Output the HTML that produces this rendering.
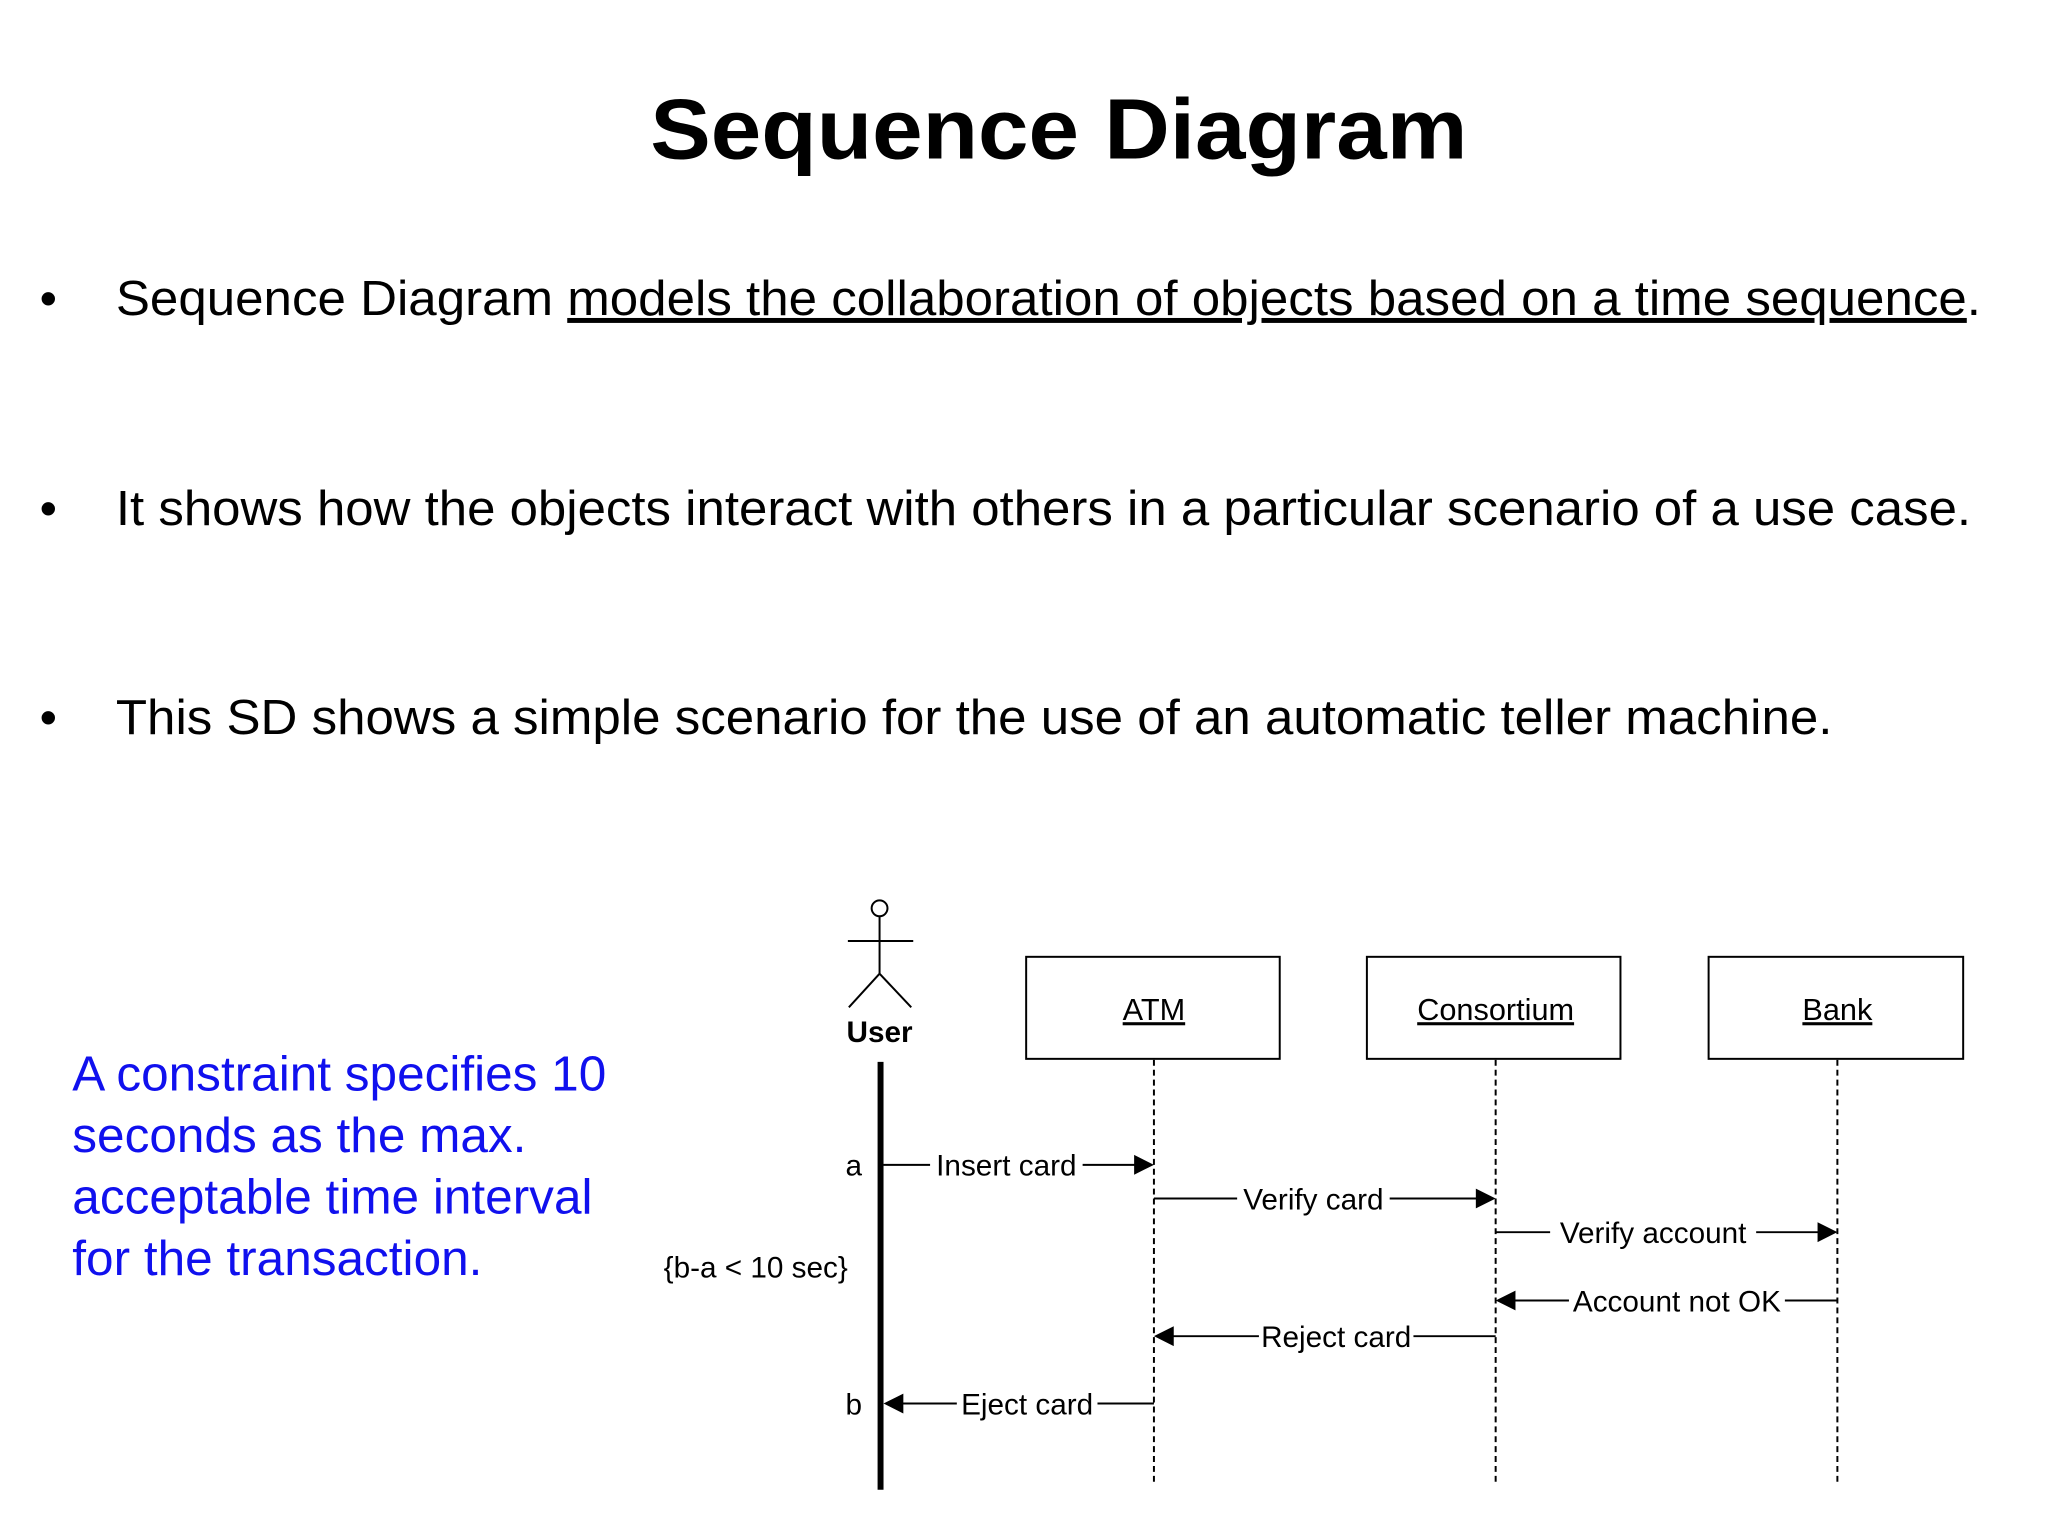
<!DOCTYPE html>
<html><head><meta charset="utf-8"><style>
html,body{margin:0;padding:0;background:#fff;}
svg{display:block;}
</style></head><body>
<svg width="2048" height="1536" viewBox="0 0 2048 1536" xmlns="http://www.w3.org/2000/svg" font-family="Liberation Sans, Arial, sans-serif">
<rect width="2048" height="1536" fill="#fff"/>
<g transform="scale(0.9905)">
<text x="1069" y="160" font-size="86" font-weight="bold" text-anchor="middle" textLength="825" lengthAdjust="spacingAndGlyphs">Sequence Diagram</text>
<g font-size="50" fill="#000">
<text x="40" y="318">•</text>
<text x="117" y="318" textLength="1883" lengthAdjust="spacingAndGlyphs">Sequence Diagram <tspan text-decoration="underline">models the collaboration of objects based on a time sequence</tspan>.</text>
<text x="40" y="530">•</text>
<text x="117" y="530" textLength="1873" lengthAdjust="spacingAndGlyphs">It shows how the objects interact with others in a particular scenario of a use case.</text>
<text x="40" y="741">•</text>
<text x="117" y="741" textLength="1733" lengthAdjust="spacingAndGlyphs">This SD shows a simple scenario for the use of an automatic teller machine.</text>
</g>
<g font-size="50" fill="#1010ee">
<text x="73" y="1101">A constraint specifies 10</text>
<text x="73" y="1163">seconds as the max.</text>
<text x="73" y="1225">acceptable time interval</text>
<text x="73" y="1287">for the transaction.</text>
</g>
<g stroke="#000" stroke-width="2" fill="none">
<circle cx="888" cy="917" r="8" fill="#fff"/>
<line x1="888" y1="925" x2="888" y2="983"/>
<line x1="856" y1="950" x2="922" y2="950"/>
<line x1="888" y1="983" x2="857" y2="1017"/>
<line x1="888" y1="983" x2="920" y2="1017"/>
</g>
<text x="888" y="1052" font-size="30" font-weight="bold" text-anchor="middle">User</text>
<line x1="889" y1="1072" x2="889" y2="1504" stroke="#000" stroke-width="6"/>
<g stroke="#000" stroke-width="2" fill="#fff">
<rect x="1036" y="966" width="256" height="103"/>
<rect x="1380" y="966" width="256" height="103"/>
<rect x="1725" y="966" width="257" height="103"/>
</g>
<g font-size="31" text-anchor="middle" text-decoration="underline">
<text x="1165" y="1030">ATM</text>
<text x="1510" y="1030">Consortium</text>
<text x="1855" y="1030">Bank</text>
</g>
<g stroke="#000" stroke-width="2" stroke-dasharray="6,4">
<line x1="1165" y1="1070" x2="1165" y2="1500"/>
<line x1="1510" y1="1070" x2="1510" y2="1500"/>
<line x1="1855" y1="1070" x2="1855" y2="1500"/>
</g>
<g stroke="#000" stroke-width="2">
<line x1="892" y1="1176" x2="1150" y2="1176"/>
<line x1="1165" y1="1210" x2="1495" y2="1210"/>
<line x1="1510" y1="1244" x2="1840" y2="1244"/>
<line x1="1525" y1="1313" x2="1855" y2="1313"/>
<line x1="1180" y1="1349" x2="1510" y2="1349"/>
<line x1="906" y1="1417" x2="1165" y2="1417"/>
</g>
<g fill="#fff">
<rect x="939" y="1160" width="154" height="32"/>
<rect x="1249" y="1194" width="154" height="32"/>
<rect x="1565" y="1228" width="208" height="32"/>
<rect x="1584" y="1297" width="218" height="32"/>
<rect x="1271" y="1333" width="156" height="32"/>
<rect x="966" y="1401" width="142" height="32"/>
</g>
<g fill="#000">
<polygon points="1145,1166 1165,1176 1145,1186"/>
<polygon points="1490,1200 1510,1210 1490,1220"/>
<polygon points="1835,1234 1855,1244 1835,1254"/>
<polygon points="1530,1303 1510,1313 1530,1323"/>
<polygon points="1185,1339 1165,1349 1185,1359"/>
<polygon points="912,1407 892,1417 912,1427"/>
</g>
<g font-size="30" text-anchor="middle" fill="#000">
<text x="1016" y="1187">Insert card</text>
<text x="1326" y="1221">Verify card</text>
<text x="1669" y="1255">Verify account</text>
<text x="1693" y="1324">Account not OK</text>
<text x="1349" y="1360">Reject card</text>
<text x="1037" y="1428">Eject card</text>
</g>
<g font-size="30" fill="#000">
<text x="862" y="1187" text-anchor="middle">a</text>
<text x="862" y="1428" text-anchor="middle">b</text>
<text x="763" y="1290" text-anchor="middle">{b-a &lt; 10 sec}</text>
</g>
</g>
</svg>
</body></html>
